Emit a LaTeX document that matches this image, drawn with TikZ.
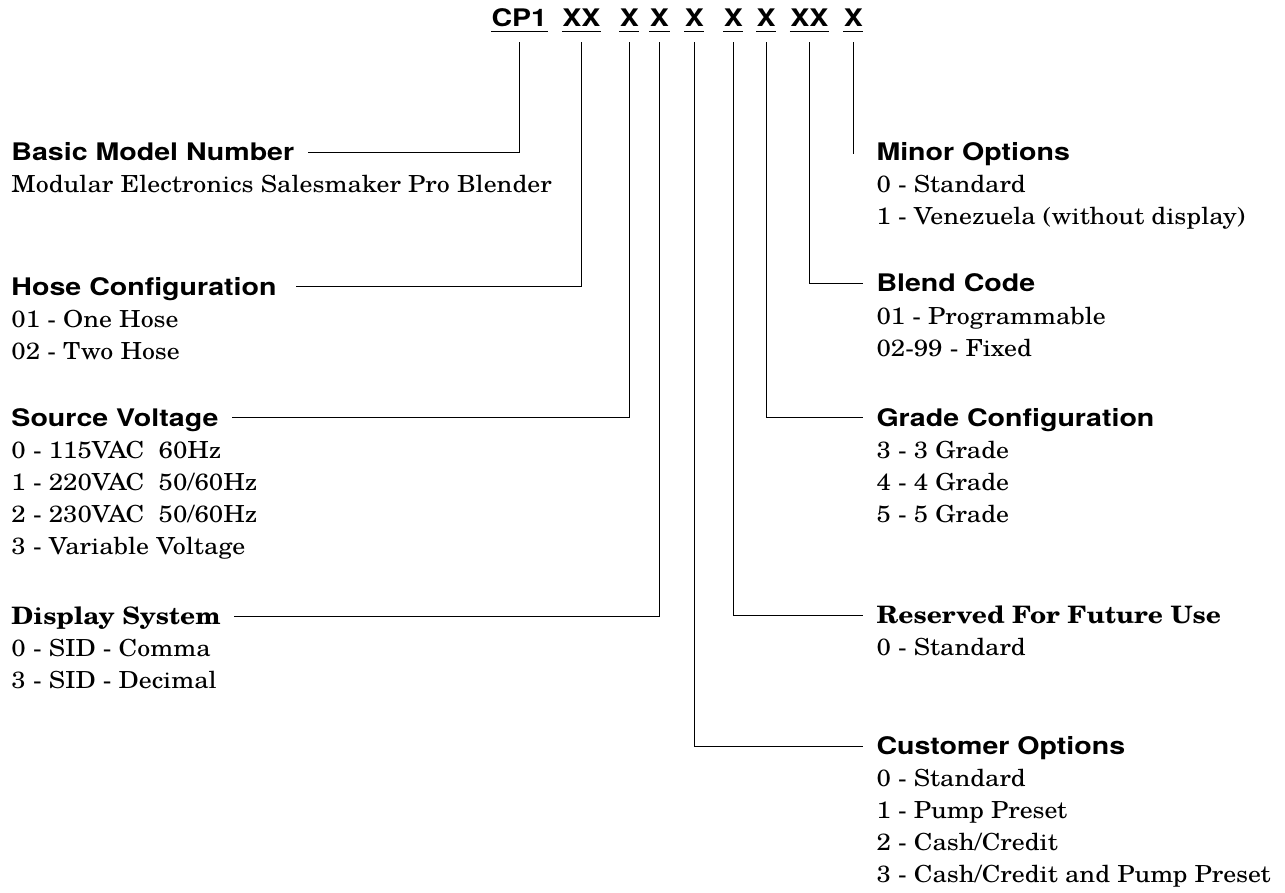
\documentclass[tikz,border=0pt]{standalone}
\usepackage{fontspec}
\usepackage{tikz}
\setmainfont{TeX Gyre Schola}[FakeStretch=1.1]
\newfontfamily\hdfont{TeX Gyre Heros}[FakeStretch=1.18]

\begin{document}
\begin{tikzpicture}[x=1pt, y=-1pt, line width=1pt,
  code/.style={font=\hdfont\bfseries\fontsize{24.2}{29}\selectfont, inner sep=0pt, anchor=base},
  ttl/.style={font=\hdfont\bfseries\fontsize{24.2}{29}\selectfont, inner sep=0pt, text height=17.4pt, text depth=0pt, anchor=west},
  bttl/.style={ttl, font=\bfseries\fontsize{24}{28}\selectfont},
  item/.style={font=\fontsize{23.5}{28}\selectfont, inner sep=0pt, anchor=base west},
  conn/.style={shorten >=13pt}]
\def\linegap{32pt}
\def\drop{-16pt}
\useasboundingbox (0,0) rectangle (1285,893);

% MODEL CODE
\node[code] (cp) at (519.3,26.5) {CP1};
\node[code] (hc) at (581.3,26.5) {XX};
\node[code] (sv) at (629.3,26.5) {X};
\node[code] (ds) at (659.5,26.5) {X};
\node[code] (co) at (694.3,26.5) {X};
\node[code] (rf) at (733.3,26.5) {X};
\node[code] (gc) at (766.2,26.5) {X};
\node[code] (bc) at (809.3,26.5) {XX};
\node[code] (mo) at (853.3,26.5) {X};
\foreach \n in {cp,hc,sv,ds,co,rf,gc,bc,mo}
  \draw[line width=1.5pt] ([yshift=-5pt]\n.base west) -- ([yshift=-5pt]\n.base east);

% LEFT COLUMN
\node[ttl] (basic) at (11,152.3) {Basic Model Number};
\foreach \t [count=\i] in {Modular Electronics Salesmaker Pro Blender}
  \node[item] (basic-\i) at ([yshift=-\i*\linegap]basic.base west) {\t};

\node[ttl] (hose) at (11,286.7) {Hose Configuration};
\foreach \t [count=\i] in {01 - One Hose, 02 - Two Hose}
  \node[item] (hose-\i) at ([yshift=-\i*\linegap]hose.base west) {\t};

\node[ttl] (volt) at (11,417.3) {Source Voltage};
\foreach \t [count=\i] in {0 - 115VAC\ \ 60Hz, 1 - 220VAC\ \ 50/60Hz, 2 - 230VAC\ \ 50/60Hz, 3 - Variable Voltage}
  \node[item] (volt-\i) at ([yshift=-\i*\linegap]volt.base west) {\t};

\node[bttl] (disp) at (11,616) {Display System};
\foreach \t [count=\i] in {0 - SID - Comma, 3 - SID - Decimal}
  \node[item] (disp-\i) at ([yshift=-\i*\linegap]disp.base west) {\t};

% RIGHT COLUMN
\node[ttl] (minor) at (876,152) {Minor Options};
\foreach \t [count=\i] in {0 - Standard, 1 - Venezuela (without display)}
  \node[item] (minor-\i) at ([yshift=-\i*\linegap]minor.base west) {\t};

\node[ttl] (blend) at (876,283.3) {Blend Code};
\foreach \t [count=\i] in {01 - Programmable, 02-99 - Fixed}
  \node[item] (blend-\i) at ([yshift=-\i*\linegap]blend.base west) {\t};

\node[ttl] (grade) at (876,417.3) {Grade Configuration};
\foreach \t [count=\i] in {3 - 3 Grade, 4 - 4 Grade, 5 - 5 Grade}
  \node[item] (grade-\i) at ([yshift=-\i*\linegap]grade.base west) {\t};

\node[bttl] (resv) at (876,615) {Reserved For Future Use};
\foreach \t [count=\i] in {0 - Standard}
  \node[item] (resv-\i) at ([yshift=-\i*\linegap]resv.base west) {\t};

\node[ttl] (cust) at (876,746) {Customer Options};
\foreach \t [count=\i] in {0 - Standard, 1 - Pump Preset, 2 - Cash/Credit, 3 - Cash/Credit and Pump Preset}
  \node[item] (cust-\i) at ([yshift=-\i*\linegap]cust.base west) {\t};

% LEADERS
\draw[conn] ([yshift=\drop]cp.base) |- (basic);
\draw[conn, shorten >=19pt] ([yshift=\drop]hc.base) |- (hose);
\draw[conn] ([yshift=\drop]sv.base) |- (volt);
\draw[conn] ([yshift=\drop]ds.base) |- (disp);
\draw[conn] ([yshift=\drop]co.base) |- (cust);
\draw[conn] ([yshift=\drop]rf.base) |- (resv);
\draw[conn] ([yshift=\drop]gc.base) |- (grade);
\draw[conn] ([yshift=\drop]bc.base) |- (blend);
\draw ([yshift=\drop]mo.base) -- ([yshift=-2pt]mo.base |- minor.west);
\end{tikzpicture}
\end{document}
